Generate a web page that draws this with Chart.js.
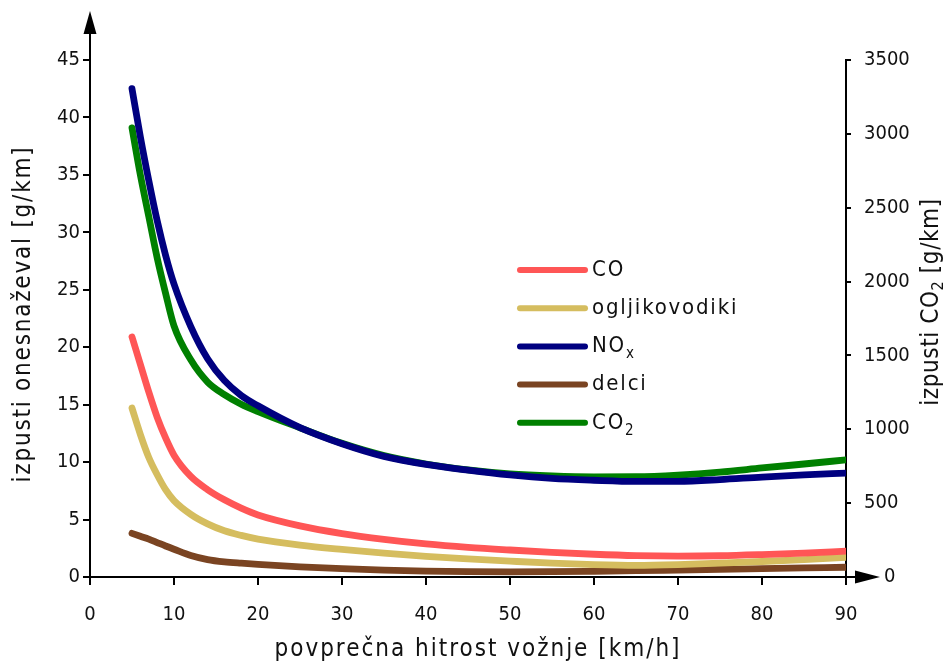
<!DOCTYPE html>
<html>
<head>
<meta charset="utf-8">
<script src="https://cdn.jsdelivr.net/npm/chart.js@4/dist/chart.umd.min.js"></script>
<style>
  html, body { margin: 0; padding: 0; background: #fff; }
  #wrap { width: 948px; height: 664px; }
</style>
</head>
<body>
<div id="wrap"><canvas id="c" width="948" height="664"></canvas></div>
<script>
// ---- data ----
const speeds    = [5, 6, 7, 8, 9, 10, 12, 14, 16, 18, 20, 25, 30, 35, 40, 45, 50, 55, 60, 65, 70, 75, 80, 85, 90];
const coValues  = [20.9, 18.5, 16.1, 13.9, 12.1, 10.6, 8.75, 7.6, 6.72, 6.0, 5.4, 4.45, 3.78, 3.28, 2.88, 2.58, 2.35, 2.15, 1.98, 1.86, 1.82, 1.85, 1.95, 2.08, 2.25];
const hcValues  = [14.7, 12.4, 10.4, 8.9, 7.6, 6.65, 5.45, 4.62, 4.02, 3.62, 3.3, 2.78, 2.4, 2.07, 1.8, 1.58, 1.38, 1.2, 1.08, 1.02, 1.08, 1.2, 1.35, 1.52, 1.72];
const noxValues = [42.5, 38.3, 34.5, 31.0, 28.0, 25.5, 21.8, 19.0, 17.1, 15.8, 14.9, 13.0, 11.6, 10.5, 9.8, 9.3, 8.88, 8.58, 8.42, 8.32, 8.33, 8.48, 8.7, 8.88, 9.05];
const pmValues  = [3.8, 3.55, 3.3, 3.0, 2.7, 2.42, 1.88, 1.52, 1.32, 1.2, 1.1, 0.88, 0.72, 0.6, 0.52, 0.47, 0.45, 0.46, 0.5, 0.55, 0.61, 0.67, 0.73, 0.79, 0.85];
const co2Values = [3040, 2720, 2440, 2160, 1920, 1700, 1470, 1320, 1235, 1170, 1120, 1010, 905, 822, 765, 725, 698, 684, 678, 679, 690, 710, 738, 765, 793];

const seriesNames = ['CO', 'ogljikovodiki', 'NO', 'delci', 'CO'];
const seriesSubs  = ['', '', 'x', '', '2'];
const seriesColors = ['#ff5656', '#d5bd5f', '#000080', '#7a4422', '#008000'];

const xTicks  = [0, 10, 20, 30, 40, 50, 60, 70, 80, 90];
const yTicks  = [0, 5, 10, 15, 20, 25, 30, 35, 40, 45];
const y2Ticks = [0, 500, 1000, 1500, 2000, 2500, 3000, 3500];

const xTitle  = 'povprečna hitrost vožnje [km/h]';
const yTitle  = 'izpusti onesnaževal [g/km]';
const y2Title = ['izpusti CO', '2', ' [g/km]'];

const FONT = "'DejaVu Sans Condensed', 'Liberation Sans Narrow', 'DejaVu Sans', sans-serif";
const subChars = { 'x': '\u2093', '2': '\u2082', '': '' };

function pts(vals) { return speeds.map((s, i) => ({ x: s, y: vals[i] })); }
const allSeries = [coValues, hcValues, noxValues, pmValues, co2Values];

const datasets = allSeries.map((vals, i) => ({
  label: seriesNames[i] + subChars[seriesSubs[i]],
  data: pts(vals),
  yAxisID: i === 4 ? 'y2' : 'y',
  borderColor: seriesColors[i],
  backgroundColor: seriesColors[i],
  borderWidth: 6.8,
  borderCapStyle: 'round',
  borderJoinStyle: 'round',
  pointRadius: 0,
  cubicInterpolationMode: 'monotone',
  fill: false
}));

// custom drawing: arrows, titles, legend, right-axis "0"
const decor = {
  id: 'decor',
  afterDraw(chart) {
    const ctx = chart.ctx;
    const ca = chart.chartArea;
    const xs = chart.scales.x, ys = chart.scales.y, y2s = chart.scales.y2;
    const x0 = xs.getPixelForValue(0);
    const y0 = ys.getPixelForValue(0);
    const xEnd = xs.getPixelForValue(90);
    ctx.save();
    ctx.strokeStyle = '#000';
    ctx.fillStyle = '#000';
    ctx.lineWidth = 2;
    // left axis extension + arrow
    ctx.beginPath();
    ctx.moveTo(x0, ca.top);
    ctx.lineTo(x0, 30);
    ctx.stroke();
    ctx.beginPath();
    ctx.moveTo(x0, 11);
    ctx.lineTo(x0 - 6.5, 34);
    ctx.lineTo(x0 + 6.5, 34);
    ctx.closePath();
    ctx.fill();
    // x axis extension + arrow
    ctx.beginPath();
    ctx.moveTo(xEnd, y0);
    ctx.lineTo(858, y0);
    ctx.stroke();
    ctx.beginPath();
    ctx.moveTo(880, y0);
    ctx.lineTo(855, y0 - 6.5);
    ctx.lineTo(855, y0 + 6.5);
    ctx.closePath();
    ctx.fill();

    // right axis "0" label
    ctx.font = '20px ' + FONT;
    ctx.textAlign = 'left';
    ctx.textBaseline = 'middle';
    ctx.fillStyle = '#111';
    ctx.fillText('0', 884, y2s.getPixelForValue(0));

    // titles
    function fitText(text, font, target) {
      ctx.font = font;
      ctx.letterSpacing = '0px';
      const w = ctx.measureText(text).width;
      const n = [...text].length;
      const sp = Math.max(0, (target - w) / n);
      ctx.letterSpacing = sp + 'px';
      return sp;
    }
    ctx.fillStyle = '#111';
    ctx.textAlign = 'center';
    ctx.textBaseline = 'middle';
    // x title
    fitText(xTitle, '24px ' + FONT, 407);
    ctx.fillText(xTitle, 478, 650);
    // left title
    ctx.save();
    ctx.translate(24, 314);
    ctx.rotate(-Math.PI / 2);
    fitText(yTitle, '24px ' + FONT, 337);
    ctx.fillText(yTitle, 0, 0);
    ctx.restore();
    // right title with subscript
    ctx.save();
    ctx.translate(932, 302);
    ctx.rotate(-Math.PI / 2);
    ctx.letterSpacing = '0.6px';
    ctx.textAlign = 'left';
    ctx.font = '24px ' + FONT;
    const wa = ctx.measureText(y2Title[0]).width;
    const wc = ctx.measureText(y2Title[2]).width;
    ctx.font = '16px ' + FONT;
    const wb = ctx.measureText(y2Title[1]).width;
    let px = -(wa + wb + wc) / 2;
    ctx.font = '24px ' + FONT;
    ctx.fillText(y2Title[0], px, 0);
    px += wa;
    ctx.font = '16px ' + FONT;
    ctx.fillText(y2Title[1], px, 7);
    px += wb;
    ctx.font = '24px ' + FONT;
    ctx.fillText(y2Title[2], px, 0);
    ctx.restore();

    // legend
    ctx.letterSpacing = '1.8px';
    const lx0 = 520, lx1 = 585, ly0 = 270, dy = 38.2;
    chart.data.datasets.forEach((ds, i) => {
      const yy = ly0 + i * dy;
      ctx.strokeStyle = seriesColors[i];
      ctx.lineWidth = 6;
      ctx.lineCap = 'round';
      ctx.beginPath();
      ctx.moveTo(lx0, yy);
      ctx.lineTo(lx1, yy);
      ctx.stroke();
      ctx.fillStyle = '#111';
      ctx.textAlign = 'left';
      ctx.textBaseline = 'middle';
      ctx.font = '22px ' + FONT;
      ctx.fillText(seriesNames[i], 592, yy);
      if (seriesSubs[i]) {
        const w = ctx.measureText(seriesNames[i]).width;
        ctx.font = '15px ' + FONT;
        ctx.fillText(seriesSubs[i], 592 + w, yy + 8);
      }
    });
    ctx.restore();
  }
};

const axisCommon = {
  grid: { drawOnChartArea: false, drawTicks: true, color: '#000', lineWidth: 2 },
  border: { display: true, color: '#000', width: 2 },
  ticks: { color: '#111', font: { family: FONT, size: 20 } }
};

new Chart(document.getElementById('c'), {
  type: 'line',
  data: { datasets },
  options: {
    responsive: false,
    animation: false,
    devicePixelRatio: 1,
    layout: { padding: { top: 60, left: 0, right: 0, bottom: 0 } },
    plugins: { legend: { display: false }, tooltip: { enabled: false }, title: { display: false } },
    scales: {
      x: {
        type: 'linear', position: 'bottom', min: 0, max: 90,
        afterBuildTicks(s) { s.ticks = xTicks.map(v => ({ value: v })); },
        afterFit(s) { s.height = 87; },
        grid: { ...axisCommon.grid, tickLength: 8 },
        border: axisCommon.border,
        ticks: { ...axisCommon.ticks, padding: 18, maxRotation: 0 }
      },
      y: {
        type: 'linear', position: 'left', min: 0, max: 45,
        afterBuildTicks(s) { s.ticks = yTicks.map(v => ({ value: v })); },
        afterFit(s) { s.width = 90; },
        grid: { ...axisCommon.grid, tickLength: 7 },
        border: axisCommon.border,
        ticks: { ...axisCommon.ticks, padding: 3 }
      },
      y2: {
        type: 'linear', position: 'right', min: 0, max: 3500,
        afterBuildTicks(s) { s.ticks = y2Ticks.map(v => ({ value: v })); },
        afterFit(s) { s.width = 102; },
        grid: { ...axisCommon.grid, tickLength: 5 },
        border: axisCommon.border,
        ticks: { ...axisCommon.ticks, padding: 13, callback: v => (v === 0 ? '' : String(v)) }
      }
    }
  },
  plugins: [decor]
});
</script>
</body>
</html>
